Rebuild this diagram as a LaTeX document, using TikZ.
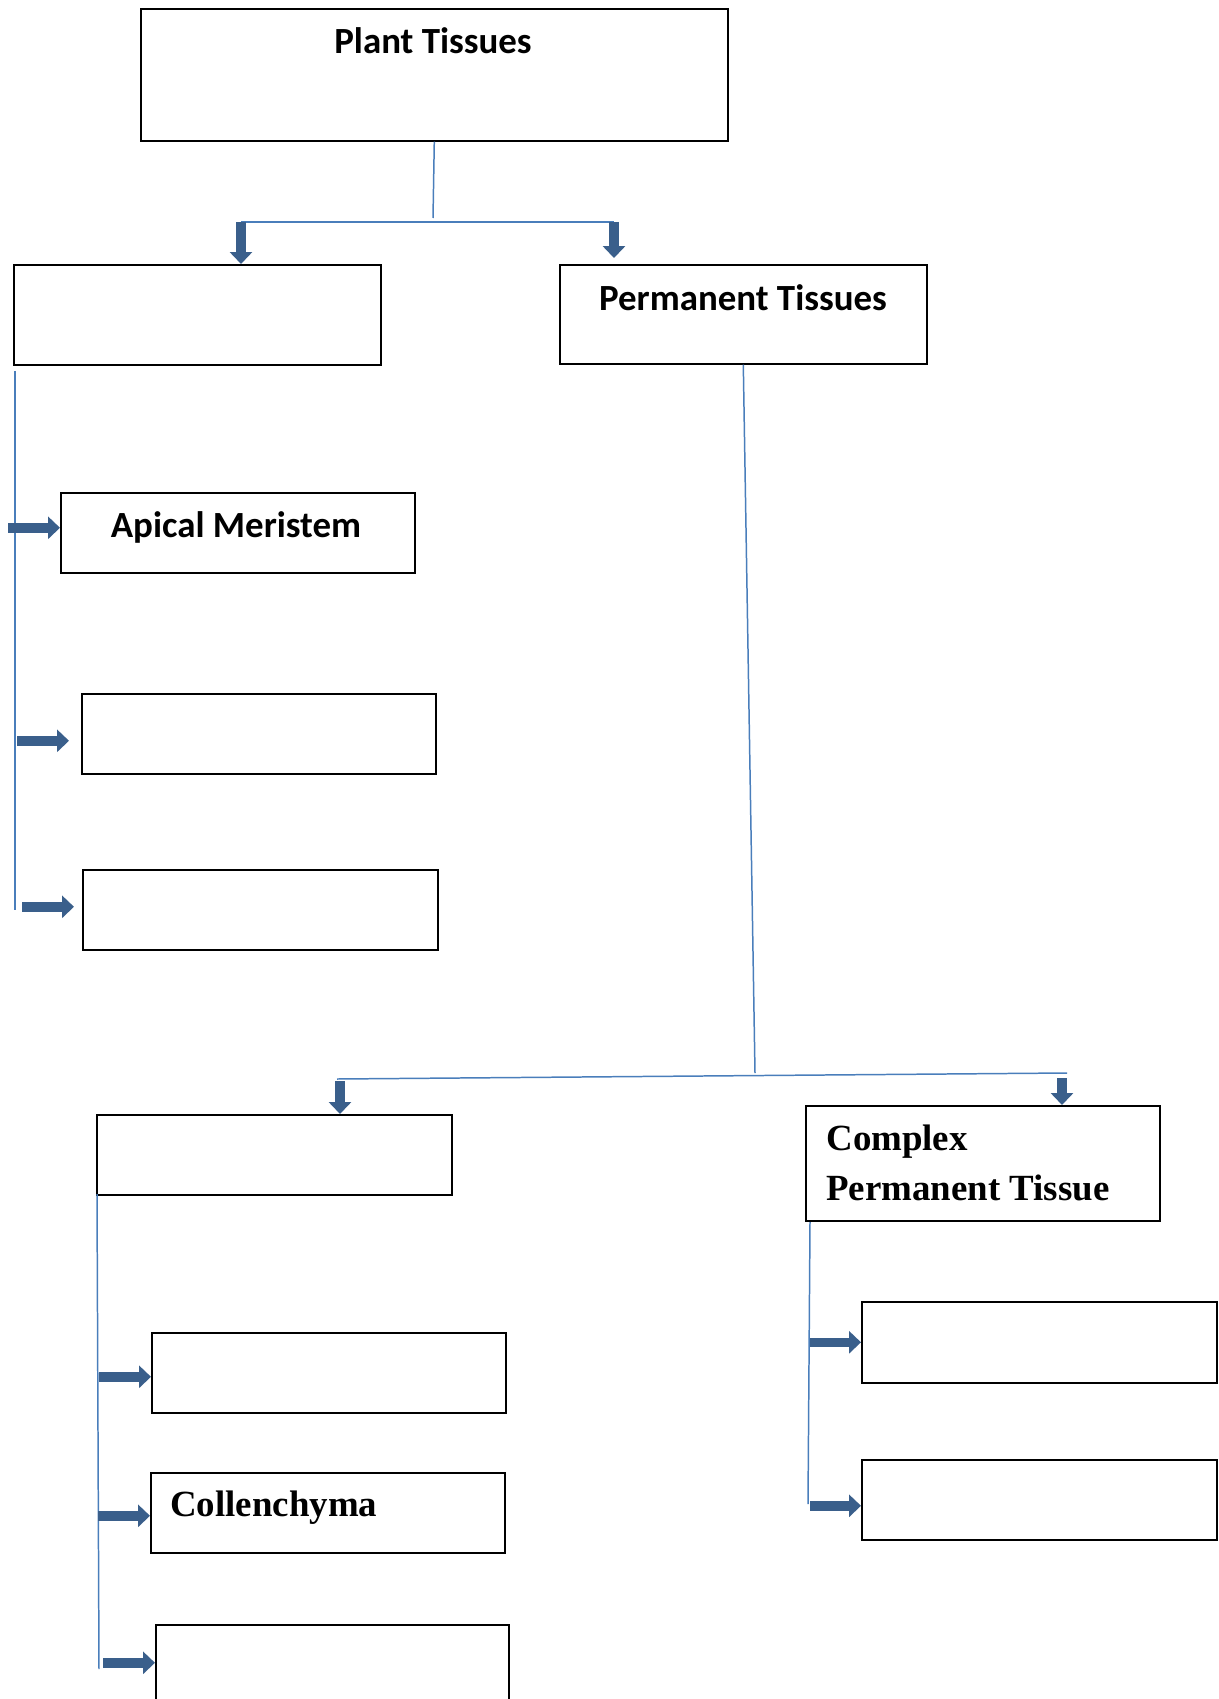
\documentclass[tikz,border=0pt]{standalone}
\usepackage{fontspec}
\newfontfamily\carlito{Carlito}
\newfontfamily\libserif{Liberation Serif}
\usetikzlibrary{arrows.meta}
\def\pxl{0.02cm}
\definecolor{linkblue}{HTML}{4A7EBB}
\definecolor{arrowblue}{HTML}{3A5F8B}

\begin{document}
\begin{tikzpicture}[x=\pxl, y=-\pxl,
  box/.style={draw=black, line width=0.9pt, anchor=north west, inner sep=0pt},
  link/.style={draw=linkblue, line width=0.85pt},
  blockarrow/.style={draw=arrowblue, line width=5.4pt, -{Triangle[width=12.5pt,length=6.8pt]}},
  sanslbl/.style={font=\carlito\bfseries\fontsize{21}{26}\selectfont, inner sep=0pt},
  seriflbl/.style={font=\libserif\bfseries\fontsize{21}{28}\selectfont, inner sep=0pt, align=left, anchor=west}]

  \useasboundingbox (0,0) rectangle (1219,1699);

  % boxes
  \node[box, minimum width=587*\pxl, minimum height=132*\pxl] (plant) at (140,8) {};
  \node[box, minimum width=367*\pxl, minimum height=100*\pxl] (meri) at (13,264) {};
  \node[box, minimum width=367*\pxl, minimum height=99*\pxl] (perm) at (559,264) {};
  \node[box, minimum width=354*\pxl, minimum height=80*\pxl] (apical) at (60,492) {};
  \node[box, minimum width=354*\pxl, minimum height=80*\pxl] (mbox2) at (81,693) {};
  \node[box, minimum width=355*\pxl, minimum height=80*\pxl] (mbox3) at (82,869) {};
  \node[box, minimum width=355*\pxl, minimum height=80*\pxl] (simple) at (96,1114) {};
  \node[box, minimum width=354*\pxl, minimum height=115*\pxl] (complex) at (805,1105) {};
  \node[box, minimum width=354*\pxl, minimum height=80*\pxl] (sp1) at (151,1332) {};
  \node[box, minimum width=354*\pxl, minimum height=80*\pxl] (coll) at (150,1472) {};
  \node[box, minimum width=353*\pxl, minimum height=80*\pxl] (sp3) at (155,1624) {};
  \node[box, minimum width=355*\pxl, minimum height=81*\pxl] (cx1) at (861,1301) {};
  \node[box, minimum width=355*\pxl, minimum height=80*\pxl] (cx2) at (861,1459) {};

  % labels
  \node[sanslbl] (plantlbl) at (433,41) {Plant Tissues};
  \node[sanslbl] (permlbl) at (743,298) {Permanent Tissues};
  \node[sanslbl] (apicallbl) at (236,527) {Apical Meristem};
  \node[seriflbl] (complexlbl) at (826,1163) {Complex\\Permanent Tissue};
  \node[seriflbl] (colllbl) at (170,1508) {Collenchyma};

  % top split
  \coordinate (tophub) at (433,218);
  \coordinate (lhub) at (241,222);
  \coordinate (rhub) at (614,222);
  \draw[link] (plant.south) -- (tophub);
  \draw[link] (lhub) -- (rhub);
  \draw[blockarrow] (lhub) -- (lhub |- meri.north);
  \draw[blockarrow, shorten >=3.4pt] (rhub) -- (rhub |- perm.north);

  % meristem branch
  \coordinate (mtop) at (15,371);
  \coordinate (mbot) at (15,910);
  \draw[link] (mtop) -- (mbot);
  \foreach \b/\gap/\dy in {apical/0/-5, mbox2/12/7, mbox3/8/-3}
    \draw[blockarrow] ([xshift=-(52+\gap)*\pxl, yshift=-\dy*\pxl]\b.west)
      -- ([xshift=-\gap*\pxl, yshift=-\dy*\pxl]\b.west);

  % permanent split
  \coordinate (phub) at (755,1073);
  \coordinate (slhub) at (337,1079);
  \coordinate (srhub) at (1067,1073);
  \draw[link] (perm.south) -- (phub);
  \draw[link] (slhub) -- (srhub);
  \coordinate (sarr) at (340,1081);
  \coordinate (carr) at (1062,1078);
  \draw[blockarrow] (sarr) -- (sarr |- simple.north);
  \draw[blockarrow] (carr) -- (carr |- complex.north);

  % simple branch
  \coordinate (stop) at (97,1194);
  \coordinate (sbot) at (99,1669);
  \draw[link] (stop) -- (sbot);
  \foreach \b/\dy in {sp1/4, coll/3, sp3/-2}
    \draw[blockarrow] ([xshift=-52*\pxl, yshift=-\dy*\pxl]\b.west)
      -- ([yshift=-\dy*\pxl]\b.west);

  % complex branch
  \coordinate (ctop) at (810,1222);
  \coordinate (cbot) at (808,1504);
  \draw[link] (ctop) -- (cbot);
  \foreach \b/\dy in {cx1/0, cx2/6}
    \draw[blockarrow] ([xshift=-51*\pxl, yshift=-\dy*\pxl]\b.west)
      -- ([yshift=-\dy*\pxl]\b.west);

\end{tikzpicture}
\end{document}
